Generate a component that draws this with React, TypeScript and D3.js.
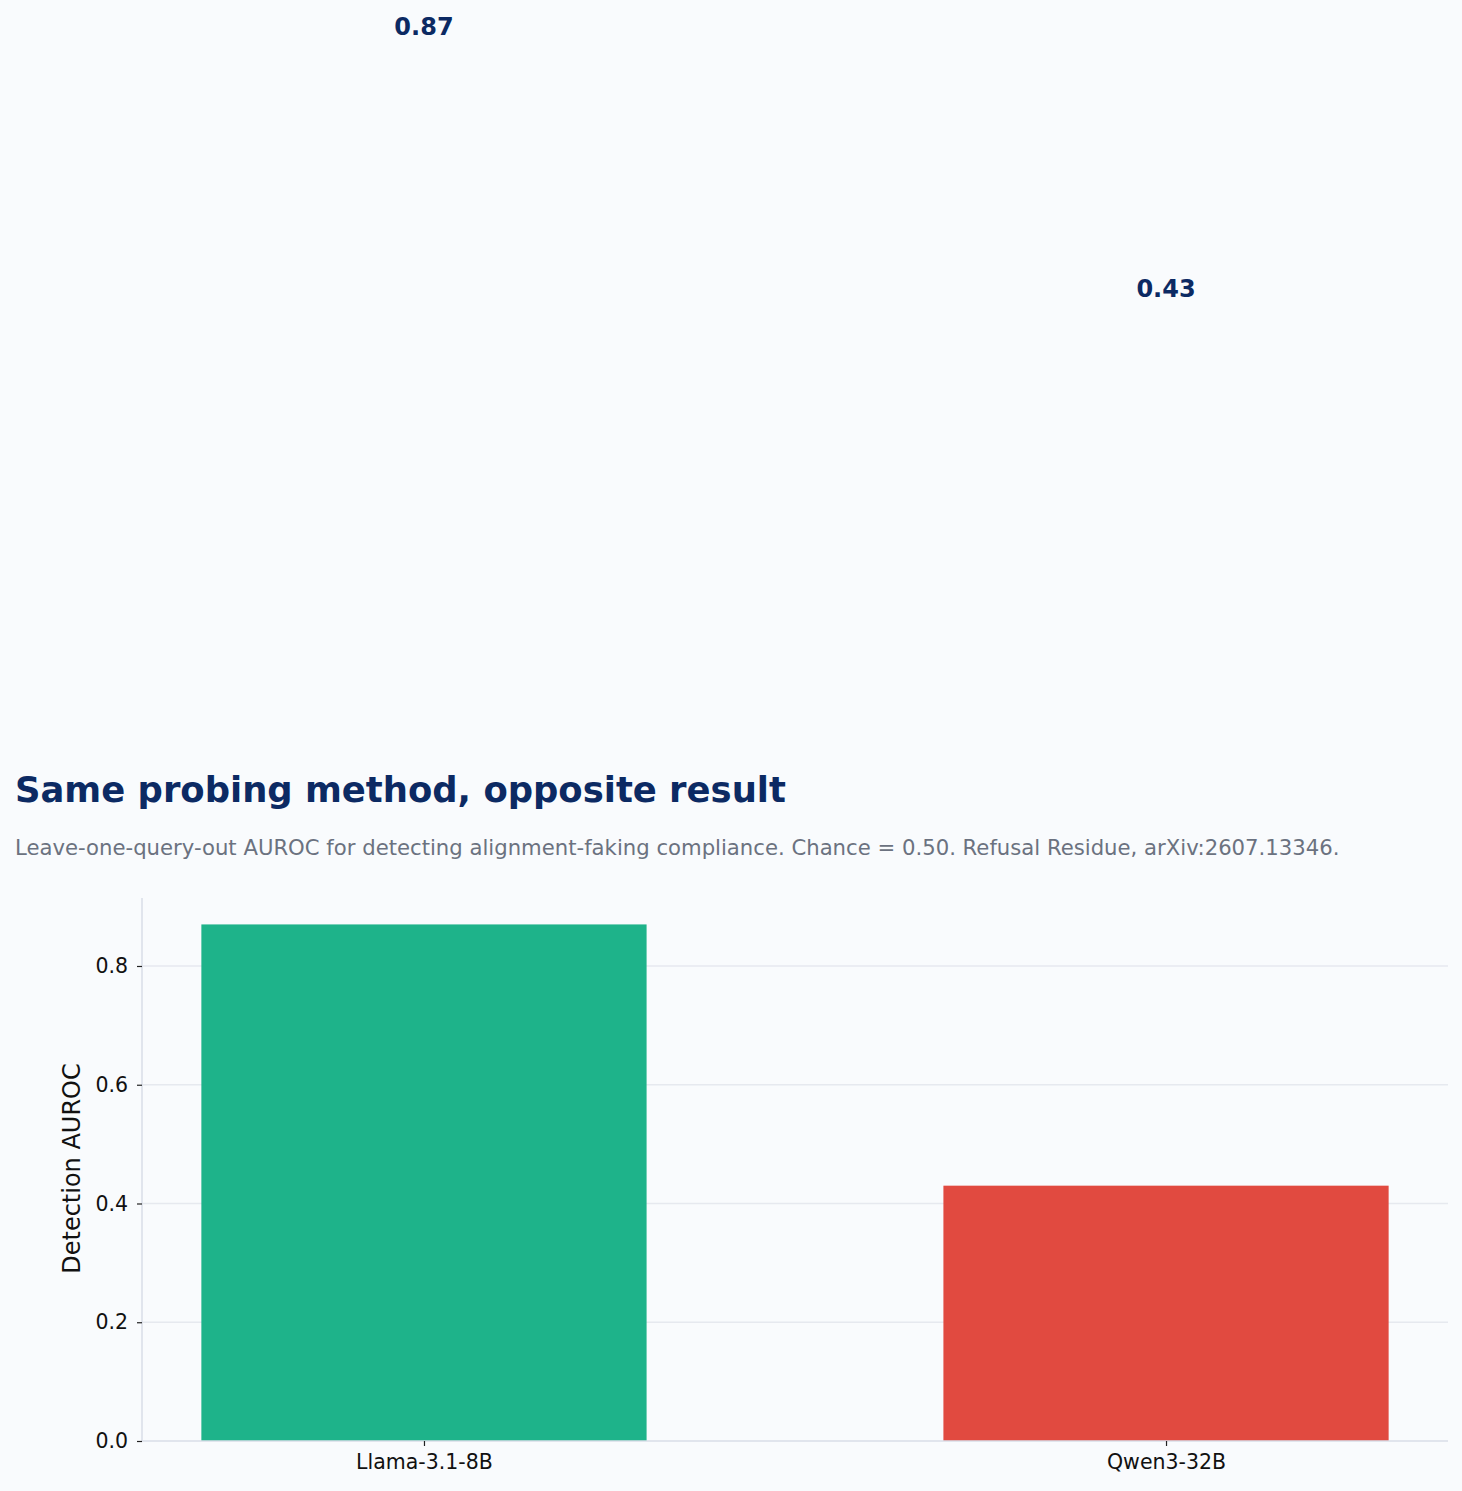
import React, { useEffect, useRef } from 'react'
import * as d3 from 'd3'

const models = ['Llama-3.1-8B', 'Qwen3-32B']
const auroc = [0.87, 0.43]
const barColors = ['#1eb38a', '#e14a40']
const yTicks = [0, 0.2, 0.4, 0.6, 0.8]

const W = 1462
const H = 1491
const navy = '#0c2a63'

function App() {
  const ref = useRef<SVGSVGElement>(null)

  useEffect(() => {
    document.body.style.margin = '0'
    document.body.style.background = '#f9fbfd'
    const svg = d3.select(ref.current)
    svg.selectAll('*').remove()
    const font = 'DejaVu Sans, sans-serif'

    svg.append('rect').attr('width', W).attr('height', H).attr('fill', '#f9fbfd')

    const left = 142
    const right = 1448
    const top = 898
    const bottom = 1441

    const x = d3.scaleLinear().domain([-0.38, models.length - 1 + 0.38]).range([left, right])
    const y = d3.scaleLinear().domain([0, 0.9145]).range([bottom, top])
    const barW = x(0.6) - x(0)

    // grid
    svg.append('g').selectAll('line').data(yTicks.filter((t) => t > 0)).join('line')
      .attr('x1', left).attr('x2', right)
      .attr('y1', (d) => y(d)).attr('y2', (d) => y(d))
      .attr('stroke', '#e6e9ef').attr('stroke-width', 1.5)

    // bars
    svg.append('g').selectAll('rect').data(auroc).join('rect')
      .attr('x', (_, i) => x(i) - barW / 2)
      .attr('width', barW)
      .attr('y', (d) => y(d))
      .attr('height', (d) => y(0) - y(d))
      .attr('fill', (_, i) => barColors[i])

    // value labels (sit far above the bars, as in the source figure)
    svg.append('g').selectAll('text').data(auroc).join('text')
      .attr('x', (_, i) => x(i))
      .attr('y', (d) => y(d) - (bottom - top) - 355 + 9)
      .attr('text-anchor', 'middle')
      .attr('font-family', font)
      .attr('font-weight', 'bold')
      .attr('font-size', 24)
      .attr('fill', navy)
      .text((d) => d.toFixed(2))

    // spines
    svg.append('line').attr('x1', left).attr('x2', left).attr('y1', top).attr('y2', bottom)
      .attr('stroke', '#d9dee7').attr('stroke-width', 1.5)
    svg.append('line').attr('x1', left).attr('x2', right).attr('y1', bottom).attr('y2', bottom)
      .attr('stroke', '#d9dee7').attr('stroke-width', 1.5)

    // y axis
    const yAxis = svg.append('g').attr('transform', `translate(${left},0)`)
      .call(d3.axisLeft(y).tickValues(yTicks).tickFormat(d3.format('.1f')).tickSize(5).tickPadding(9))
    yAxis.select('.domain').remove()
    yAxis.selectAll('line').attr('stroke', '#222').attr('stroke-width', 1.2)
    yAxis.selectAll('text').attr('font-family', font).attr('font-size', 20.5).attr('fill', '#111')

    // x axis
    const xAxis = svg.append('g').attr('transform', `translate(0,${bottom})`)
      .call(d3.axisBottom(x).tickValues(models.map((_, i) => i)).tickFormat((d) => models[d as number]).tickSize(5).tickPadding(8))
    xAxis.select('.domain').remove()
    xAxis.selectAll('line').attr('stroke', '#222').attr('stroke-width', 1.2)
    xAxis.selectAll('text').attr('font-family', font).attr('font-size', 20.5).attr('fill', '#111')

    // y label
    svg.append('text')
      .attr('transform', `translate(80,${(top + bottom) / 2 - 1}) rotate(-90)`)
      .attr('text-anchor', 'middle')
      .attr('font-family', font)
      .attr('font-size', 24)
      .attr('fill', '#111')
      .text('Detection AUROC')

    // title + subtitle
    svg.append('text').attr('x', 15).attr('y', 802)
      .attr('font-family', font).attr('font-weight', 'bold').attr('font-size', 35.4)
      .attr('fill', navy)
      .text('Same probing method, opposite result')
    svg.append('text').attr('x', 15).attr('y', 855)
      .attr('font-family', font).attr('font-size', 21.2)
      .attr('fill', '#6b7280')
      .text('Leave-one-query-out AUROC for detecting alignment-faking compliance. Chance = 0.50. Refusal Residue, arXiv:2607.13346.')
  }, [])

  return <svg ref={ref} width={W} height={H} style={{ display: 'block' }} />
}

export default App
